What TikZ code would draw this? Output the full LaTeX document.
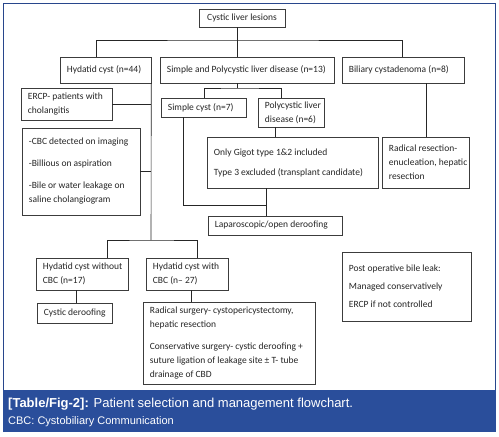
\documentclass[tikz,border=0pt]{standalone}
\usepackage{fontspec}
\setmainfont{Carlito}
\newfontfamily\capfont{Liberation Sans}
\usetikzlibrary{calc}
\definecolor{bannerblue}{RGB}{42,78,155}
\definecolor{frameblue}{RGB}{40,70,140}
\definecolor{boxline}{RGB}{60,60,60}
\tikzset{
  bxframe/.style={draw=boxline,line width=0.6pt,inner sep=0pt},
  bxtext/.style={inner sep=0pt,align=left,font={\fontsize{9.5}{14}\selectfont},text=black!85},
  conn/.style={draw=black!85,line width=0.6pt}
}
% \bx[text options]{name}{x1}{y1}{x2}{y2}{text}
\newcommand\bx[7][]{%
  \pgfmathsetmacro\bw{#5-#3}\pgfmathsetmacro\bh{#6-#4}%
  \pgfmathsetmacro\cx{(#3+#5)/2}\pgfmathsetmacro\cy{(#4+#6)/2}%
  \node[bxframe,minimum width=\bw pt,minimum height=\bh pt] (#2) at (\cx,\cy) {};
  \node[bxtext,anchor=west,#1] (#2-t) at ($(#2.west)+(7,0)$) {#7};}
\begin{document}
\begin{tikzpicture}[x=1pt,y=-1pt]
\useasboundingbox (0,0) rectangle (499,437);
\fill[white] (0,0) rectangle (499,437);
\draw[frameblue,line width=1.2pt] (3.5,432) -- (3.5,3.5) -- (495.5,3.5) -- (495.5,432);
\fill[bannerblue] (3,390) rectangle (496,432);
\node[anchor=west,text=white,font={\capfont\fontsize{13}{15}\selectfont},inner sep=0pt] (cap1) at (8,404)
  {\textbf{[Table/Fig-2]:} Patient selection and management flowchart.};
\node[anchor=west,text=white,font={\capfont\fontsize{11}{13}\selectfont},inner sep=0pt] (cap2) at (8,422)
  {CBC: Cystobiliary Communication};
% boxes
\node[bxframe,minimum width=86pt,minimum height=18pt] (top) at (242,18) {};
\node[bxtext] (top-t) at (top.center) {Cystic liver lesions};
\bx{hyd}{60}{57}{151}{83}{Hydatid cyst (n=44)}
\bx{simp}{160}{57}{334}{83}{Simple and Polycystic liver disease (n=13)}
\bx{bil}{342}{57}{464}{83}{Biliary cystadenoma (n=8)}
\bx{ercp}{21}{88}{112}{120}{ERCP- patients with\\cholangitis}
\bx{crit}{22}{128}{140}{215}{-CBC detected on imaging\\[8pt]-Billious on aspiration\\[8pt]-Bile or water leakage on\\saline cholangiogram}
\bx{sc}{161}{98}{246}{117}{Simple cyst (n=7)}
\bx{poly}{258}{98}{324}{127}{Polycystic liver\\disease (n=6)}
\bx{gig}{207}{137}{378}{188}{Only Gigot type 1\&2 included\\[6pt]Type 3 excluded (transplant candidate)}
\bx{radres}{382}{137}{469}{188}{Radical resection-\\enucleation, hepatic\\resection}
\bx{lap}{208}{216}{342}{235}{Laparoscopic/open deroofing}
\bx{post}{342}{252}{471}{321}{Post operative bile leak:\\[4pt]Managed conservatively\\[4pt]ERCP if not controlled}
\bx{wo}{36}{258}{128}{290}{Hydatid cyst without\\CBC (n=17)}
\bx{wi}{146}{258}{228}{290}{Hydatid cyst with\\CBC (n– 27)}
\bx{der}{37}{303}{112}{323}{Cystic deroofing}
\bx{rs}{143}{302}{315}{384}{Radical surgery- cystopericystectomy,\\hepatic resection\\[8pt]Conservative surgery- cystic deroofing +\\suture ligation of leakage site ± T- tube\\drainage of CBD}
% bus coordinates
\coordinate (b1) at (237,40);
\coordinate (b2) at (237,88);
\coordinate (hv) at (151,240);
\coordinate (lj) at (266,205);
% connectors
\draw[conn] (b1 |- top.south) -- (b1);
\draw[conn] ($(hyd.north west)+(37,0)$) |- (b1) -| ($(bil.north west)+(61,0)$);
\draw[conn] (b1) -- (b1 |- simp.north);
\draw[conn] (b2 |- simp.south) -- (b2);
\draw[conn] ($(sc.north west)+(44,0)$) |- (b2) -| ($(poly.north west)+(24,0)$);
\draw[conn] ($(poly.south west)+(18,0)$) -- ($(gig.north west)+(69,0)$);
\draw[conn] ($(sc.south west)+(23,0)$) |- (lj);
\draw[conn] (lj |- gig.south) -- (lj |- lap.north);
\draw[conn] ($(bil.south west)+(85,0)$) -- ($(radres.north west)+(45,0)$);
\draw[conn] (hyd.south east) -- (hv);
\draw[conn] (ercp.east) -- (ercp.east -| hv);
\draw[conn] (crit.east) -- (crit.east -| hv);
\draw[conn] ($(wo.north west)+(72,0)$) |- (hv) -| ($(wi.north west)+(52,0)$);
\draw[conn] ($(wo.south west)+(41,0)$) -- ($(der.north west)+(40,0)$);
\draw[conn] ($(wi.south west)+(46,0)$) -- ($(rs.north west)+(49,0)$);
\end{tikzpicture}
\end{document}
